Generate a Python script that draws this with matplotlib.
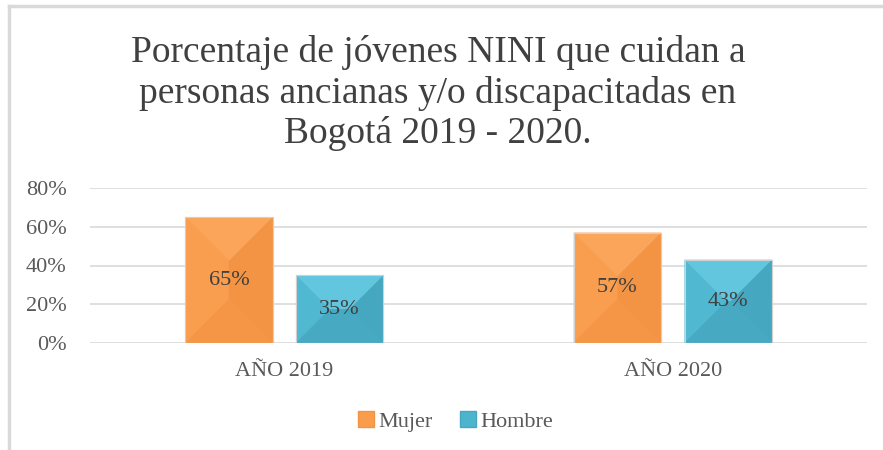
import numpy as np
import matplotlib.pyplot as plt
from matplotlib.patches import Polygon, Patch

plt.rcParams['font.family'] = ['Liberation Serif', 'DejaVu Serif']

# data
years = ['AÑO 2019', 'AÑO 2020']
mujer = [0.65, 0.57]
hombre = [0.35, 0.43]
series = [('Mujer', mujer), ('Hombre', hombre)]

# face, top, bottom, left, right shades
shades = {
    'Mujer': ['#F99C4B', '#FAA55A', '#F49645', '#F99D4E', '#F29443'],
    'Hombre': ['#4DB4CD', '#62C6DF', '#47A9C2', '#50B8D1', '#46A8C0'],
}

fig = plt.figure(figsize=(8.83, 4.5), dpi=100)
ax = fig.add_axes([0.102, 0.238, 0.880, 0.344])

x = np.arange(len(years))
w = 0.225
gap = 0.06
offsets = [-(w + gap) / 2, (w + gap) / 2]

ax.set_xlim(-0.5, 1.5)
ax.set_ylim(0, 0.8)
ax.set_yticks([0, 0.2, 0.4, 0.6, 0.8])
ax.set_yticklabels(['0%', '20%', '40%', '60%', '80%'])
ax.set_xticks(x)
ax.set_xticklabels(years)
ax.tick_params(length=0, labelsize=16, colors='#595959')
ax.tick_params(axis='y', pad=17)
ax.tick_params(axis='x', pad=14)
for s in ax.spines.values():
    s.set_visible(False)
ax.yaxis.grid(True, color='#d9d9d9', linewidth=1.2)
ax.set_axisbelow(True)

inv = ax.transData.inverted()
for (name, vals), off in zip(series, offsets):
    face, top, bot, left, right = shades[name]
    bars = ax.bar(x + off, vals, w, color=face, edgecolor='#cfcfcf', linewidth=0.8, zorder=2)
    for b, v in zip(bars, vals):
        # pyramid bevel facets, 45 degrees in pixel space
        x0, y0 = ax.transData.transform((b.get_x(), 0))
        x1, y1 = ax.transData.transform((b.get_x() + b.get_width(), v))
        d = min(x1 - x0, y1 - y0) / 2
        pts = {
            'tl': (x0, y1), 'tr': (x1, y1), 'bl': (x0, y0), 'br': (x1, y0),
            'it_l': (x0 + d, y1 - d), 'it_r': (x1 - d, y1 - d),
            'ib_l': (x0 + d, y0 + d), 'ib_r': (x1 - d, y0 + d),
        }
        P = {k: inv.transform(p) for k, p in pts.items()}
        facets = [
            ([P['tl'], P['it_l'], P['ib_l'], P['bl']], left),
            ([P['tr'], P['it_r'], P['ib_r'], P['br']], right),
            ([P['tl'], P['tr'], P['it_r'], P['it_l']], top),
            ([P['bl'], P['br'], P['ib_r'], P['ib_l']], bot),
        ]
        for poly, c in facets:
            ax.add_patch(Polygon(poly, closed=True, facecolor=c, edgecolor='none', zorder=3))
        ax.add_patch(Polygon([P['tl'], P['tr'], P['br'], P['bl']], closed=True, fill=False,
                             edgecolor='#d0d0d0', linewidth=0.8, zorder=3))
        ax.text(b.get_x() + b.get_width() / 2, v / 2, f'{round(v * 100)}%',
                ha='center', va='center', fontsize=16, color='#404040', zorder=4)

fig.text(0.496, 0.793,
         'Porcentaje de jóvenes NINI que cuidan a\npersonas ancianas y/o discapacitadas en\nBogotá 2019 - 2020.',
         ha='center', va='center', fontsize=27, color='#404040', linespacing=1.2)

handles = [Patch(facecolor=shades[n][0], edgecolor=shades[n][4]) for n, _ in series]
fig.legend(handles, [n for n, _ in series], loc='center', bbox_to_anchor=(0.516, 0.064),
           ncol=2, frameon=False, fontsize=16, handlelength=0.75, handleheight=0.75,
           handletextpad=0.2, columnspacing=1.2, labelcolor='#595959')

# chart frame: only left and top edges visible
fig.add_artist(plt.Line2D([0.0102, 0.0102], [0, 0.986], color='#d9d9d9', linewidth=2.5))
fig.add_artist(plt.Line2D([0.0102, 1.0], [0.986, 0.986], color='#d9d9d9', linewidth=2.5))

fig.savefig('out.png', dpi=100, facecolor='white')
